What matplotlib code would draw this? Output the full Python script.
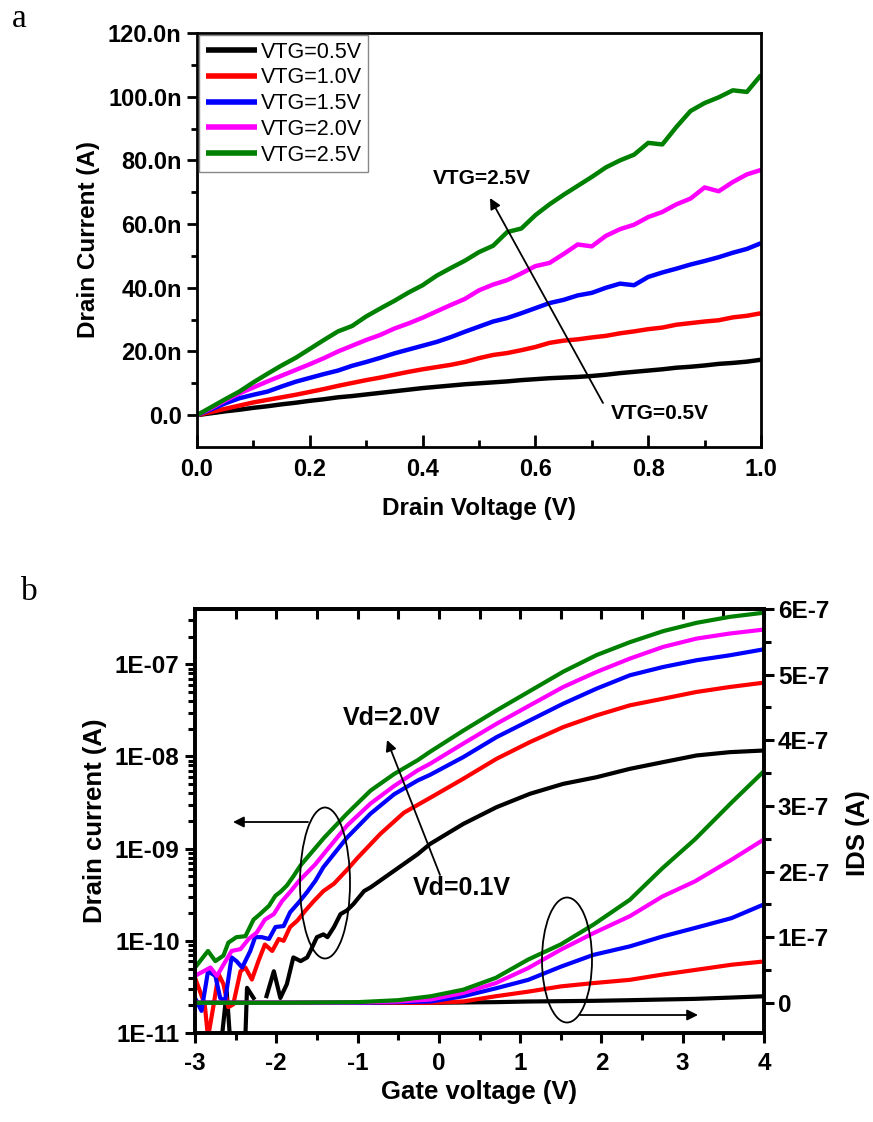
import numpy as np
import matplotlib
matplotlib.use("Agg")
import matplotlib.pyplot as plt
from matplotlib.patches import Ellipse, FancyArrowPatch
from matplotlib.ticker import MultipleLocator, LogLocator, NullFormatter, FixedLocator

plt.rcParams['font.family'] = ['Liberation Sans', 'DejaVu Sans']
plt.rcParams['font.weight'] = 'bold'
plt.rcParams['axes.unicode_minus'] = False

# ---------------- Panel a data (drain current in nA) ----------------
vd = [0.0, 0.025, 0.05, 0.075, 0.1, 0.125, 0.15, 0.175, 0.2, 0.225, 0.25, 0.275,
      0.3, 0.325, 0.35, 0.375, 0.4, 0.425, 0.45, 0.475, 0.5, 0.525, 0.55, 0.575,
      0.6, 0.625, 0.65, 0.675, 0.7, 0.725, 0.75, 0.775, 0.8, 0.825, 0.85, 0.875,
      0.9, 0.925, 0.95, 0.975, 1.0]
id_vtg05 = [0, 0.6, 1.2, 1.7, 2.3, 2.8, 3.4, 3.9, 4.5, 5.0, 5.6, 6.0, 6.5, 7.0, 7.5,
            8.0, 8.5, 8.9, 9.3, 9.7, 10.0, 10.3, 10.6, 11.0, 11.3, 11.6, 11.8, 12.0,
            12.3, 12.7, 13.2, 13.6, 14.0, 14.4, 14.9, 15.2, 15.6, 16.1, 16.4, 16.8, 17.4]
id_vtg10 = [0, 1.0, 2.0, 3.0, 4.0, 4.8, 5.6, 6.4, 7.3, 8.2, 9.2, 10.1, 11.0, 11.8, 12.7,
            13.6, 14.4, 15.1, 15.8, 16.7, 17.9, 18.9, 19.5, 20.4, 21.4, 22.7, 23.4, 23.8,
            24.4, 24.9, 25.7, 26.3, 27.0, 27.5, 28.4, 28.9, 29.4, 29.8, 30.7, 31.2, 32.0]
id_vtg15 = [0, 1.8, 3.7, 5.3, 6.4, 7.4, 9.0, 10.5, 11.7, 12.9, 14.0, 15.5, 16.7, 18.0,
            19.4, 20.6, 21.8, 23.0, 24.5, 26.2, 27.8, 29.4, 30.5, 32.0, 33.6, 35.2, 36.2,
            37.6, 38.4, 40.0, 41.3, 40.8, 43.4, 44.8, 46.0, 47.3, 48.4, 49.6, 51.0, 52.2, 54.0]
id_vtg20 = [0, 2.2, 4.6, 6.8, 8.7, 10.6, 12.4, 14.2, 16.0, 17.9, 20.0, 21.8, 23.6, 25.2,
            27.2, 28.8, 30.6, 32.6, 34.6, 36.5, 39.2, 41.0, 42.4, 44.5, 46.8, 47.8, 50.6,
            53.6, 53.0, 56.3, 58.4, 59.8, 62.2, 63.8, 66.2, 68.0, 71.5, 70.3, 73.2, 75.6, 77.0]
id_vtg25 = [0, 2.5, 5.0, 7.4, 10.3, 13.0, 15.6, 18.0, 20.8, 23.6, 26.3, 28.0, 31.0, 33.5,
            35.9, 38.5, 40.8, 43.8, 46.2, 48.5, 51.2, 53.2, 57.5, 58.6, 62.8, 66.2, 69.2,
            72.0, 74.8, 77.8, 80.0, 81.8, 85.5, 85.0, 90.5, 95.5, 98.0, 99.8, 102.0, 101.5, 106.8]
a_labels = ['VTG=0.5V', 'VTG=1.0V', 'VTG=1.5V', 'VTG=2.0V', 'VTG=2.5V']
a_yticks = [0, 20, 40, 60, 80, 100, 120]
a_yticklabels = ['0.0', '20.0n', '40.0n', '60.0n', '80.0n', '100.0n', '120.0n']
a_xticks = [0.0, 0.2, 0.4, 0.6, 0.8, 1.0]
a_xticklabels = ['0.0', '0.2', '0.4', '0.6', '0.8', '1.0']

# ---------------- Panel b data ----------------
# log-scale transfer curves: gate voltage and log10(drain current / A)
vg_vd01 = [-2.70, -2.61, -2.55, -2.47, -2.39, -2.36, -2.28, -2.20, -2.12, -2.03, -1.95,
           -1.87, -1.79, -1.70, -1.62, -1.58, -1.50, -1.42, -1.37, -1.29, -1.21, -1.13,
           -1.05, -0.92, -0.84, -0.55, -0.26, -0.11, 0.30, 0.71, 1.12, 1.53, 1.94, 2.35,
           2.76, 3.17, 3.58, 4.0]
log_id_vd01 = [-11.3, -10.55, -11.3, np.nan, -11.3, -10.51, -10.62, np.nan, -10.60, -10.33,
               -10.62, -10.47, -10.18, -10.22, -10.18, -10.11, -9.96, -9.93, -9.96, -9.85,
               -9.71, -9.67, -9.60, -9.46, -9.42, -9.24, -9.06, -8.95, -8.732, -8.55, -8.405,
               -8.297, -8.225, -8.134, -8.061, -7.989, -7.953, -7.935]
vg_vd2 = [-3.0, -2.88, -2.84, -2.77, -2.71, -2.65, -2.59, -2.53, -2.44, -2.38, -2.30, -2.22,
          -2.14, -2.05, -1.97, -1.91, -1.83, -1.74, -1.64, -1.54, -1.42, -1.29, -1.13, -1.0,
          -0.72, -0.43, -0.11, 0.30, 0.71, 1.12, 1.53, 1.94, 2.35, 2.76, 3.17, 3.58, 4.0]
log_id_vd2 = [-10.40, -10.69, -11.05, -10.69, -10.36, -10.47, -10.72, -10.69, -10.33, -10.29,
              -10.42, -10.22, -10.04, -10.11, -9.98, -10.00, -9.85, -9.78, -9.67, -9.57,
              -9.46, -9.38, -9.23, -9.10, -8.84, -8.61, -8.45, -8.242, -8.025, -7.844,
              -7.681, -7.554, -7.445, -7.373, -7.30, -7.246, -7.199]
vg_vd3 = [-3.0, -2.92, -2.84, -2.75, -2.69, -2.63, -2.55, -2.49, -2.42, -2.32, -2.26, -2.18,
          -2.09, -2.01, -1.91, -1.83, -1.72, -1.62, -1.52, -1.42, -1.13, -0.84, -0.55, -0.26,
          -0.11, 0.30, 0.71, 1.12, 1.53, 1.94, 2.35, 2.76, 3.17, 3.58, 4.0]
log_id_vd3 = [-10.62, -10.76, -10.33, -10.38, -10.62, -10.65, -10.18, -10.22, -10.29, -10.11,
              -9.96, -9.96, -9.98, -9.85, -9.84, -9.69, -9.58, -9.47, -9.35, -9.20, -8.88,
              -8.62, -8.41, -8.26, -8.20, -8.007, -7.79, -7.608, -7.427, -7.264, -7.119,
              -7.029, -6.956, -6.902, -6.837]
vg_vd4 = [-3.0, -2.81, -2.73, -2.65, -2.55, -2.44, -2.34, -2.24, -2.14, -2.03, -1.93, -1.83,
          -1.72, -1.62, -1.52, -1.41, -1.13, -0.84, -0.55, -0.26, -0.11, 0.30, 0.71, 1.12,
          1.53, 1.94, 2.35, 2.76, 3.17, 3.58, 4.0]
log_id_vd4 = [-10.38, -10.29, -10.38, -10.26, -10.11, -10.09, -9.98, -9.91, -9.77, -9.71,
              -9.57, -9.47, -9.35, -9.26, -9.17, -9.05, -8.75, -8.51, -8.32, -8.15, -8.08,
              -7.86, -7.645, -7.445, -7.246, -7.083, -6.938, -6.811, -6.721, -6.666, -6.623]
vg_vd20 = [-3.0, -2.84, -2.75, -2.65, -2.59, -2.49, -2.38, -2.28, -2.20, -2.09, -2.01, -1.95,
           -1.87, -1.79, -1.70, -1.41, -1.13, -0.84, -0.55, -0.26, -0.11, 0.30, 0.71, 1.12,
           1.53, 1.94, 2.35, 2.76, 3.17, 3.58, 4.0]
log_id_vd20 = [-10.29, -10.11, -10.22, -10.16, -10.02, -9.96, -9.95, -9.77, -9.71, -9.62,
               -9.51, -9.47, -9.40, -9.30, -9.18, -8.88, -8.62, -8.37, -8.19, -8.04, -7.95,
               -7.72, -7.50, -7.29, -7.08, -6.90, -6.76, -6.64, -6.55, -6.485, -6.44]

# linear-scale curves (IDS in units of 1e-7 A)
vg_lin = [-3.0, -2.0, -1.0, -0.5, -0.1, 0.3, 0.7, 1.1, 1.5, 1.9, 2.35, 2.75, 3.15, 3.6, 4.0]
ids_lin_vd01 = [0, 0, 0, 0, 0, 0.005, 0.01, 0.02, 0.025, 0.03, 0.04, 0.05, 0.06, 0.08, 0.10]
ids_lin_vd2 = [0, 0, 0, 0, 0.0, 0.02, 0.10, 0.17, 0.25, 0.30, 0.35, 0.43, 0.50, 0.58, 0.63]
ids_lin_vd3 = [0, 0, 0, 0.01, 0.02, 0.10, 0.22, 0.35, 0.55, 0.73, 0.86, 1.01, 1.14, 1.29, 1.50]
ids_lin_vd4 = [0, 0, 0.005, 0.02, 0.05, 0.15, 0.30, 0.53, 0.81, 1.06, 1.32, 1.62, 1.85, 2.18, 2.49]
ids_lin_vd20 = [0, 0, 0.01, 0.04, 0.10, 0.20, 0.38, 0.66, 0.89, 1.19, 1.57, 2.05, 2.49, 3.05, 3.53]

b_xticks = [-3, -2, -1, 0, 1, 2, 3, 4]
b_xticklabels = ['-3', '-2', '-1', '0', '1', '2', '3', '4']
b_yticks = [1e-11, 1e-10, 1e-9, 1e-8, 1e-7]
b_yticklabels = ['1E-11', '1E-10', '1E-09', '1E-08', '1E-07']
b_rticks = [0, 1, 2, 3, 4, 5, 6]
b_rticklabels = ['0', '1E-7', '2E-7', '3E-7', '4E-7', '5E-7', '6E-7']

colors = ['#000000', '#ff0000', '#0000ff', '#ff00ff', '#008000']

# ---------------- figure ----------------
W, H = 873, 1122
fig = plt.figure(figsize=(W / 100, H / 100), dpi=100)


def P(px, py):
    return (px / W, 1 - py / H)


def rect(x0, y0, x1, y1):
    return [x0 / W, 1 - y1 / H, (x1 - x0) / W, (y1 - y0) / H]


# ---------------- Panel a ----------------
ax_a = fig.add_axes(rect(197, 33, 761, 447))
for ys, c, lab in zip([id_vtg05, id_vtg10, id_vtg15, id_vtg20, id_vtg25], colors, a_labels):
    ax_a.plot(vd, np.array(ys) * 1e-9, color=c, lw=3.2, label=lab, solid_capstyle='butt')
ax_a.set_xlim(0, 1)
ax_a.set_ylim(-10e-9, 120e-9)
ax_a.set_yticks(np.array(a_yticks) * 1e-9, labels=a_yticklabels)
ax_a.yaxis.set_minor_locator(FixedLocator(np.array([10, 30, 50, 70, 90, 110]) * 1e-9))
ax_a.set_xticks(a_xticks, labels=a_xticklabels)
ax_a.xaxis.set_minor_locator(MultipleLocator(0.1))
ax_a.tick_params(axis='y', which='major', direction='out', length=7, width=2, labelsize=17, pad=4)
ax_a.tick_params(axis='y', which='minor', direction='out', length=4, width=2)
ax_a.tick_params(axis='x', which='major', direction='in', length=9, width=2, labelsize=17, pad=8)
ax_a.tick_params(axis='x', which='minor', direction='in', length=5, width=2)
for s in ax_a.spines.values():
    s.set_linewidth(2)
leg = ax_a.legend(loc='upper left', bbox_to_anchor=(0, 1), borderaxespad=0.1, frameon=True,
                  fancybox=False, edgecolor='#888888', framealpha=1,
                  prop={'size': 15.5, 'weight': 'normal'}, handlelength=2.4,
                  handletextpad=0.15, labelspacing=0.22, borderpad=0.3)
leg.get_frame().set_linewidth(1.0)
for ln in leg.get_lines():
    ln.set_linewidth(4)

fig.text(*P(479, 508), 'Drain Voltage (V)', ha='center', va='center', fontsize=17.5, fontweight='bold')
fig.text(*P(88, 240), 'Drain Current (A)', ha='center', va='center', rotation=90,
         fontsize=17.5, fontweight='bold')
fig.text(*P(482, 178), 'VTG=2.5V', ha='center', va='center', fontsize=15, fontweight='bold')
fig.text(*P(660, 413), 'VTG=0.5V', ha='center', va='center', fontsize=15, fontweight='bold')
fig.add_artist(FancyArrowPatch(P(603, 403), P(490, 198), transform=fig.transFigure,
                               arrowstyle='-|>', mutation_scale=16, lw=1.3, color='black',
                               shrinkA=0, shrinkB=0))
fig.text(*P(12, 27), 'a', ha='left', va='baseline', fontsize=24, fontweight='normal',
         family='Liberation Serif')

# ---------------- Panel b ----------------
ax_b = fig.add_axes(rect(195, 609, 764, 1033))
ax_b.set_yscale('log')
log_sets = [(vg_vd01, log_id_vd01), (vg_vd2, log_id_vd2), (vg_vd3, log_id_vd3),
            (vg_vd4, log_id_vd4), (vg_vd20, log_id_vd20)]
for (xs, ls), c in zip(log_sets, colors):
    ax_b.plot(xs, np.power(10.0, np.array(ls, dtype=float)), color=c, lw=3)
ax_b.set_xlim(-3, 4)
ax_b.set_ylim(1e-11, 10 ** -6.40)
ax_b.set_yticks(b_yticks, labels=b_yticklabels)
ax_b.yaxis.set_minor_locator(LogLocator(base=10, subs=np.arange(2, 10), numticks=50))
ax_b.yaxis.set_minor_formatter(NullFormatter())
ax_b.set_xticks(b_xticks, labels=b_xticklabels)
ax_b.xaxis.set_minor_locator(MultipleLocator(0.5))
ax_b.tick_params(axis='both', which='major', direction='out', length=7, width=2.2, labelsize=17.5)
ax_b.tick_params(axis='both', which='minor', direction='out', length=5, width=2.2)
ax_b.tick_params(axis='y', which='major', pad=4)
ax_b.tick_params(axis='x', which='major', pad=7)
ax_b.tick_params(top=False, right=False, which='both')

secx = ax_b.secondary_xaxis('top')
secx.set_xticks(b_xticks)
secx.xaxis.set_minor_locator(MultipleLocator(0.5))
secx.tick_params(which='both', direction='in', length=7, width=2.2, labeltop=False)
secx.spines['top'].set_linewidth(2.6)

ax2 = ax_b.twinx()
lin_sets = [ids_lin_vd01, ids_lin_vd2, ids_lin_vd3, ids_lin_vd4, ids_lin_vd20]
for ys, c in zip(lin_sets, colors):
    ax2.plot(vg_lin, np.array(ys) * 1e-7, color=c, lw=3)
ax2.set_ylim(-0.46e-7, 6e-7)
ax2.set_yticks(np.array(b_rticks) * 1e-7, labels=b_rticklabels)
ax2.yaxis.set_minor_locator(FixedLocator(np.array([0.5, 1.5, 2.5, 3.5, 4.5, 5.5]) * 1e-7))
ax2.tick_params(axis='y', which='major', direction='out', length=7, width=2.2, labelsize=17.5, pad=3)
ax2.tick_params(axis='y', which='minor', direction='out', length=5, width=2.2)
for a in (ax_b, ax2):
    for s in a.spines.values():
        s.set_linewidth(2.6)

fig.text(*P(479, 1092), 'Gate voltage (V)', ha='center', va='center', fontsize=18.5, fontweight='bold')
fig.text(*P(95, 821), 'Drain current (A)', ha='center', va='center', rotation=90,
         fontsize=18.5, fontweight='bold')
fig.text(*P(858, 833), 'IDS (A)', ha='center', va='center', rotation=90,
         fontsize=18.5, fontweight='bold')
fig.text(*P(392, 718), 'Vd=2.0V', ha='center', va='center', fontsize=18, fontweight='bold')
fig.text(*P(462, 888), 'Vd=0.1V', ha='center', va='center', fontsize=18, fontweight='bold')

arrow_kw = dict(transform=fig.transFigure, arrowstyle='-|>', mutation_scale=16, lw=1.3,
                color='black', shrinkA=0, shrinkB=0)
fig.add_artist(FancyArrowPatch(P(440, 875), P(387, 740), **arrow_kw))
fig.add_artist(FancyArrowPatch(P(308, 822), P(233, 822), **arrow_kw))
fig.add_artist(FancyArrowPatch(P(580, 1015), P(698, 1015), **arrow_kw))
fig.add_artist(Ellipse(P(325, 883), width=50 / W, height=151 / H, transform=fig.transFigure,
                       fill=False, lw=1.3, edgecolor='black'))
fig.add_artist(Ellipse(P(567, 960), width=50 / W, height=125 / H, transform=fig.transFigure,
                       fill=False, lw=1.3, edgecolor='black'))
fig.text(*P(21, 600), 'b', ha='left', va='baseline', fontsize=24, fontweight='normal',
         family='Liberation Serif')

fig.savefig('out.png', dpi=100)
